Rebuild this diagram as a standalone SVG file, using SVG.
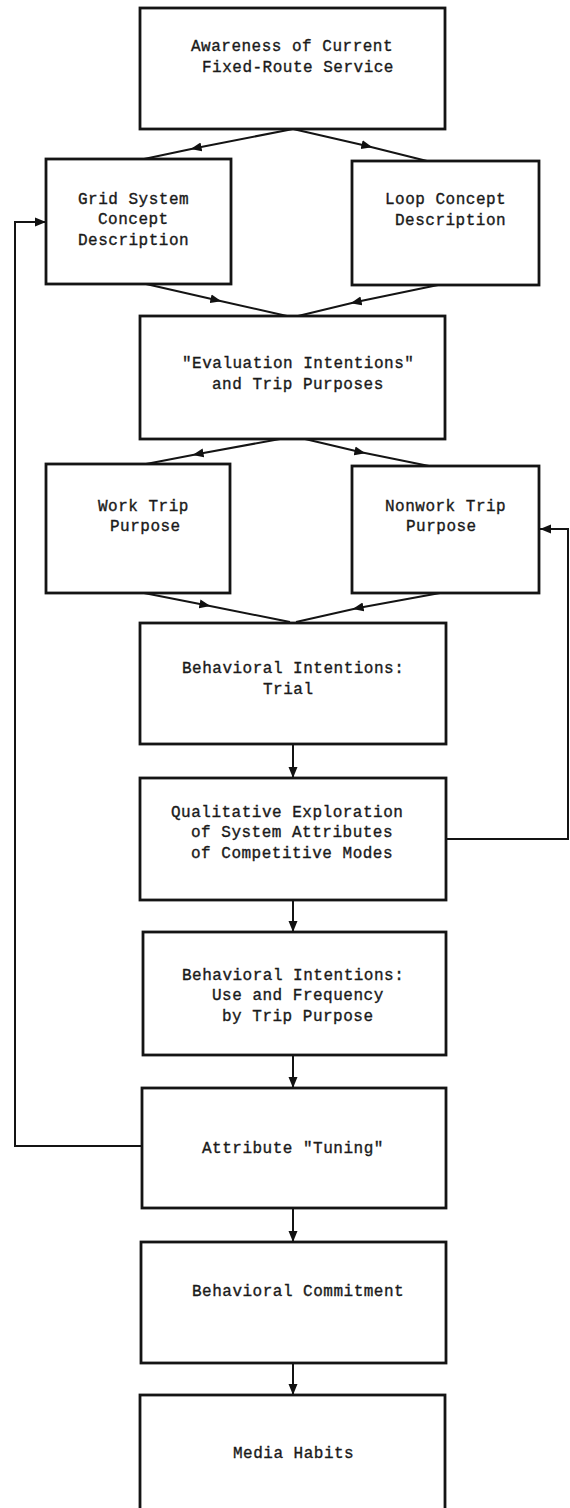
<svg xmlns="http://www.w3.org/2000/svg" width="570" height="1508" viewBox="0 0 570 1508">
  <defs>
    <marker id="mid" markerUnits="userSpaceOnUse" markerWidth="11" markerHeight="10" refX="5.5" refY="5" orient="auto">
      <path d="M0,0.5 L11,5 L0,9.5 z" fill="#111"/>
    </marker>
    <marker id="tip" markerUnits="userSpaceOnUse" markerWidth="11" markerHeight="10" refX="11" refY="5" orient="auto">
      <path d="M0,0.5 L11,5 L0,9.5 z" fill="#111"/>
    </marker>
  </defs>
  <style>
    .box { fill: #fff; stroke: #141414; stroke-width: 2.8; }
    .lbl { font-family: "Liberation Mono", "DejaVu Sans Mono", monospace; font-size: 16px; letter-spacing: 0.5px; fill: #1a1a1a; stroke: #1a1a1a; stroke-width: 0.35; }
    .ln { fill: none; stroke: #141414; stroke-width: 2; }
    .mid { marker-mid: url(#mid); }
    .end { marker-end: url(#tip); }
  </style>
  <rect width="570" height="1508" fill="#fff"/>

  <g id="connectors">
    <!-- fan-out from the awareness box -->
    <polyline class="ln mid" points="293,129 196,148 144,159"/>
    <polyline class="ln mid" points="293,129 367,146 427,161"/>
    <!-- concepts into evaluation -->
    <polyline class="ln mid" points="146,284 216,300 287,316"/>
    <polyline class="ln mid" points="438,285 356,302 298,316"/>
    <!-- evaluation into trip purposes -->
    <polyline class="ln mid" points="280,439 198,454 146,464"/>
    <polyline class="ln mid" points="305,439 360,452 429,466"/>
    <!-- trip purposes into trial -->
    <polyline class="ln mid" points="144,593 205,605 290,622"/>
    <polyline class="ln mid" points="440,593 358,608 296,622"/>
    <!-- main vertical chain -->
    <line class="ln end" x1="293" y1="744" x2="293" y2="778"/>
    <line class="ln end" x1="293" y1="900" x2="293" y2="932"/>
    <line class="ln end" x1="293" y1="1055" x2="293" y2="1088"/>
    <line class="ln end" x1="293" y1="1208" x2="293" y2="1242"/>
    <line class="ln end" x1="293" y1="1363" x2="293" y2="1395"/>
    <!-- feedback loops -->
    <polyline class="ln end" points="446,839 568,839 568,529 540,529"/>
    <polyline class="ln end" points="142,1146 15,1146 15,222 46,222"/>
  </g>

  <g id="awareness">
    <rect class="box" x="140" y="8" width="305" height="121"/>
    <text class="lbl" x="191" y="51">Awareness of Current</text>
    <text class="lbl" x="202" y="72">Fixed-Route Service</text>
  </g>

  <g id="grid-concept">
    <rect class="box" x="46" y="159" width="185" height="125"/>
    <text class="lbl" x="78" y="204">Grid System</text>
    <text class="lbl" x="98" y="224">Concept</text>
    <text class="lbl" x="78" y="245">Description</text>
  </g>

  <g id="loop-concept">
    <rect class="box" x="352" y="161" width="187" height="124"/>
    <text class="lbl" x="385" y="204">Loop Concept</text>
    <text class="lbl" x="395" y="225">Description</text>
  </g>

  <g id="evaluation">
    <rect class="box" x="140" y="316" width="305" height="123"/>
    <text class="lbl" x="182" y="368">"Evaluation Intentions"</text>
    <text class="lbl" x="212" y="389">and Trip Purposes</text>
  </g>

  <g id="work-trip">
    <rect class="box" x="46" y="464" width="184" height="129"/>
    <text class="lbl" x="98" y="511">Work Trip</text>
    <text class="lbl" x="110" y="531">Purpose</text>
  </g>

  <g id="nonwork-trip">
    <rect class="box" x="352" y="466" width="187" height="127"/>
    <text class="lbl" x="385" y="511">Nonwork Trip</text>
    <text class="lbl" x="406" y="531">Purpose</text>
  </g>

  <g id="trial">
    <rect class="box" x="140" y="623" width="306" height="121"/>
    <text class="lbl" x="182" y="673">Behavioral Intentions:</text>
    <text class="lbl" x="263" y="694">Trial</text>
  </g>

  <g id="exploration">
    <rect class="box" x="140" y="778" width="306" height="122"/>
    <text class="lbl" x="171" y="817">Qualitative Exploration</text>
    <text class="lbl" x="191" y="837">of System Attributes</text>
    <text class="lbl" x="191" y="858">of Competitive Modes</text>
  </g>

  <g id="use-frequency">
    <rect class="box" x="143" y="932" width="303" height="123"/>
    <text class="lbl" x="182" y="980">Behavioral Intentions:</text>
    <text class="lbl" x="212" y="1000">Use and Frequency</text>
    <text class="lbl" x="222" y="1021">by Trip Purpose</text>
  </g>

  <g id="tuning">
    <rect class="box" x="142" y="1088" width="304" height="120"/>
    <text class="lbl" x="202" y="1153">Attribute "Tuning"</text>
  </g>

  <g id="commitment">
    <rect class="box" x="141" y="1242" width="305" height="121"/>
    <text class="lbl" x="192" y="1296">Behavioral Commitment</text>
  </g>

  <g id="media-habits">
    <rect class="box" x="140" y="1395" width="305" height="120"/>
    <text class="lbl" x="233" y="1458">Media Habits</text>
  </g>
</svg>
